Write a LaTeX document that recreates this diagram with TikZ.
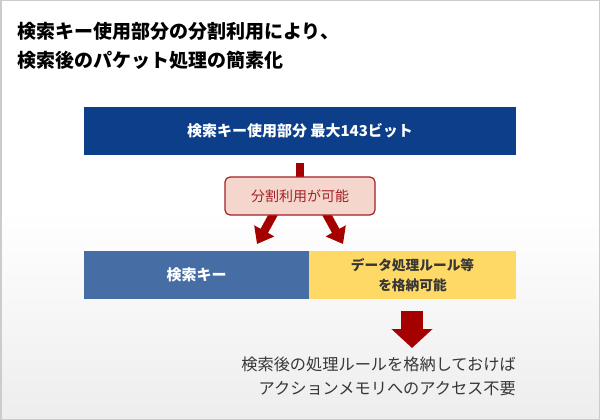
\documentclass[tikz,border=0pt]{standalone}
\usepackage{fontspec}
\setmainfont{Noto Sans CJK JP}
\usetikzlibrary{arrows.meta}
\definecolor{topblue}{RGB}{12,62,138}
\definecolor{keyblue}{RGB}{70,110,165}
\definecolor{keyyellow}{RGB}{255,217,102}
\definecolor{lblfill}{RGB}{244,214,205}
\definecolor{lbldraw}{RGB}{165,32,38}
\definecolor{arrred}{RGB}{165,0,0}
\definecolor{txtgray}{RGB}{55,55,55}
\pgfdeclarelayer{bg}
\pgfdeclarelayer{mid}
\pgfsetlayers{bg,mid,main}
\tikzset{
  titletext/.style={anchor=west, inner sep=0, font=\bfseries\fontsize{19}{22}\selectfont, text=black},
  bar/.style={anchor=north west, inner sep=0, outer sep=0, text=white, font=\bfseries\fontsize{15}{18}\selectfont},
  lblbox/.style={draw=lbldraw, line width=1.2, fill=lblfill, rounded corners=5, minimum width=150, minimum height=38, inner sep=0, text=lbldraw, font=\fontsize{14}{17}\selectfont},
  splitarr/.style={arrred, line width=8.5, -{Triangle[width=22,length=15]}},
  bigarr/.style={arrred, line width=22, -{Triangle[width=40,length=19]}},
}
\begin{document}
\begin{tikzpicture}[x=1pt,y=-1pt]
\useasboundingbox (0,0) rectangle (600,420);
\begin{pgfonlayer}{bg}
\shade[top color=white, bottom color=gray!14, middle color=white] (0,0) rectangle (600,420);
\draw[gray!40, line width=1.5] (0.75,0.75) rectangle (599.25,419.25);
\end{pgfonlayer}
\node[titletext] (t1) at (17,31) {検索キー使用部分の分割利用により、};
\node[titletext] (t2) at (17,60) {検索後のパケット処理の簡素化};
\node[bar, fill=topblue, minimum width=432, minimum height=48] (top) at (84,107) {検索キー使用部分 最大143ビット};
\node[lblbox] (lbl) at (300,196) {分割利用が可能};
\node[bar, fill=keyblue, minimum width=225, minimum height=48] (key) at (84,251) {検索キー};
\node[bar, fill=keyyellow, minimum width=207, minimum height=48, text=txtgray, align=center, font=\bfseries\fontsize{13.7}{20}\selectfont] (data) at (309,251) {データ処理ルール等\\を格納可能};
\node[anchor=north east, inner sep=0, align=right, text=txtgray, font=\fontsize{16.2}{24}\selectfont] (note) at (516,357) {検索後の処理ルールを格納しておけば\\アクションメモリへのアクセス不要};
\coordinate (tipL) at (257,244);
\coordinate (tipR) at (343,244);
\coordinate (dtop) at (412,311);
\coordinate (dtip) at (412,348);
\begin{pgfonlayer}{mid}
\draw[arrred, line width=8] ([yshift=-8]top.south) -- (lbl.center);
\draw[splitarr] ([xshift=-24,yshift=6]lbl.south) -- (tipL);
\draw[splitarr] ([xshift=24,yshift=6]lbl.south) -- (tipR);
\end{pgfonlayer}
\draw[bigarr] (dtop) -- (dtip);
\end{tikzpicture}
\end{document}
